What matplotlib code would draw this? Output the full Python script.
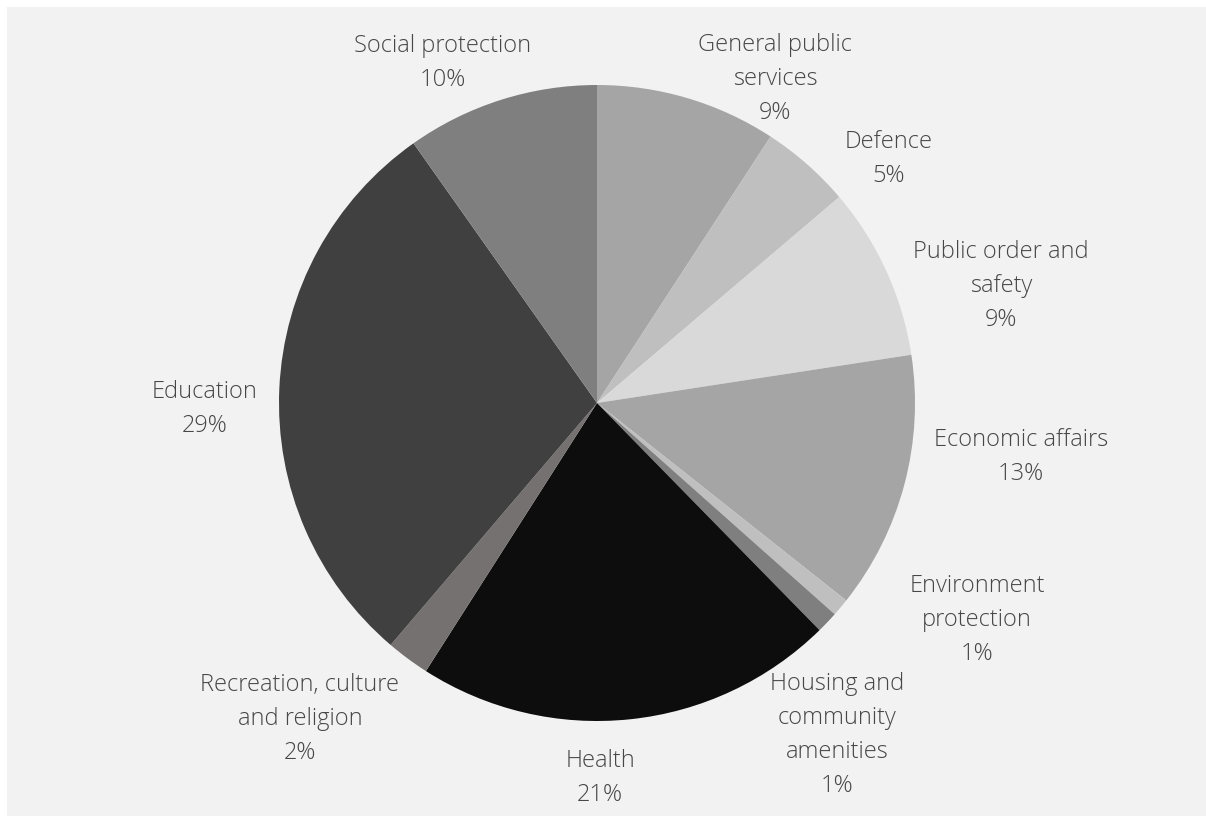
import matplotlib
matplotlib.use('Agg')
import matplotlib.pyplot as plt
from matplotlib.patches import Rectangle

# spending shares by function, clockwise from 12 o'clock
categories = ['General public\nservices', 'Defence', 'Public order and\nsafety', 'Economic affairs',
              'Environment\nprotection', 'Housing and\ncommunity\namenities', 'Health',
              'Recreation, culture\nand religion', 'Education', 'Social protection']
shares = [9.2, 4.6, 8.8, 13.1, 0.9, 1.1, 21.4, 2.2, 29.0, 9.8]
slice_colors = ['#a5a5a5', '#bfbfbf', '#d9d9d9', '#a5a5a5', '#bfbfbf',
                '#7f7f7f', '#0d0d0d', '#767171', '#404040', '#7f7f7f']

# label block centres in pixels from the top-left corner
label_xy = [(775, 79), (889, 159), (1001, 286), (1021, 457), (977, 620),
            (837, 735), (600, 778), (300, 719), (205, 409), (443, 63)]

W, H = 1206, 816
fig = plt.figure(figsize=(W / 100, H / 100), dpi=100)
fig.patch.set_facecolor('white')
ax = fig.add_axes([0, 0, 1, 1])

ax.add_patch(Rectangle((7, 0), W - 7, H - 7, facecolor='#f2f2f2', edgecolor='none', zorder=0))

ax.pie(shares, colors=slice_colors, startangle=90, counterclock=False,
       center=(597, H - 403), radius=318, frame=True,
       wedgeprops=dict(linewidth=0, zorder=2))
ax.set_xlim(0, W)
ax.set_ylim(0, H)
ax.set_aspect('equal')
ax.axis('off')

for name, v, (px, py) in zip(categories, shares, label_xy):
    ax.text(px, H - py, f'{name}\n{v:.0f}%', ha='center', va='center', ma='center',
            fontsize=17, family='Open Sans', fontweight='light', color='#474747',
            linespacing=1.55, zorder=3)

fig.savefig('out.png', dpi=100, facecolor=fig.get_facecolor())
